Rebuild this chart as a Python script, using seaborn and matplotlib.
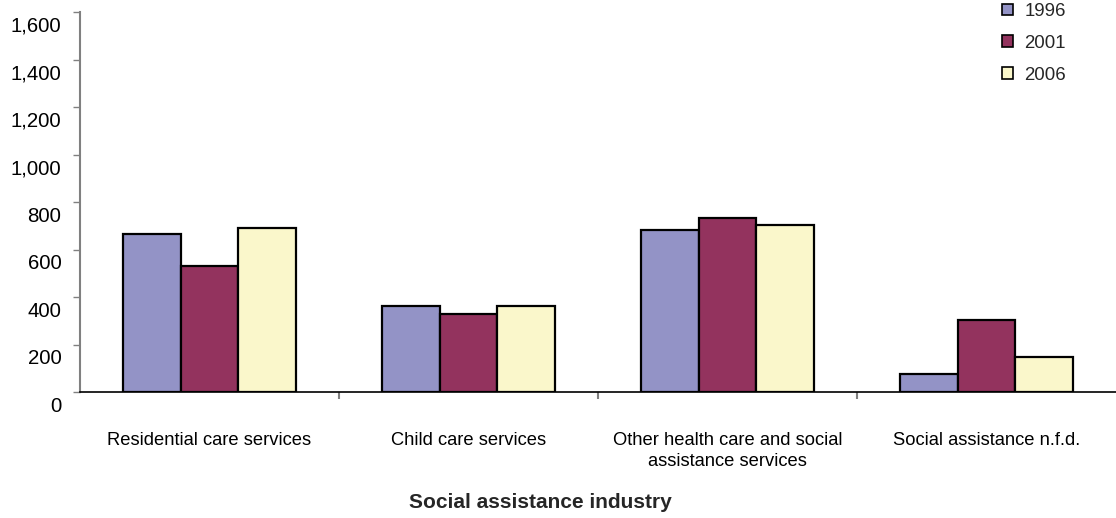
import matplotlib
matplotlib.use("Agg")
import matplotlib.pyplot as plt
import matplotlib.transforms as mtransforms
import seaborn as sns
import pandas as pd
from matplotlib.ticker import FuncFormatter, FixedLocator

categories = [
    "Residential care services",
    "Child care services",
    "Other health care and social\nassistance services",
    "Social assistance n.f.d.",
]
years = ["1996", "2001", "2006"]
values_1996 = [666, 364, 683, 76]
values_2001 = [531, 329, 732, 303]
values_2006 = [690, 364, 705, 149]
colors = ["#9393C6", "#93335E", "#FAF7CB"]

df = pd.DataFrame({
    "industry": categories * 3,
    "year": [y for y in years for _ in categories],
    "value": values_1996 + values_2001 + values_2006,
})

sns.set_theme(style="white")
plt.rcParams["font.family"] = ["Liberation Sans", "DejaVu Sans"]

fig = plt.figure(figsize=(11.16, 5.18), dpi=100)
ax = fig.add_axes([0.0717, 0.2432, 0.9283, 0.7331])

sns.barplot(data=df, x="industry", y="value", hue="year", palette=colors,
            width=0.67, gap=0, edgecolor="black", linewidth=1.6,
            saturation=1, ax=ax, legend=True)

ax.set_ylim(0, 1600)
ax.set_xlim(-0.5, 3.5)
ax.set_yticks(range(0, 1601, 200))
ax.yaxis.set_major_formatter(FuncFormatter(lambda v, p: f"{int(v):,}"))
ax.tick_params(axis="y", which="major", left=True, length=5, width=1,
               color="#808080", labelsize=14.7, pad=8.5, labelcolor="black")
# value labels sit a little below their tick marks
shift = mtransforms.ScaledTranslation(0, -12 / 100, fig.dpi_scale_trans)
for lab in ax.get_yticklabels():
    lab.set_transform(lab.get_transform() + shift)

# category labels centred, boundary ticks between categories
ax.tick_params(axis="x", which="major", bottom=False, labelsize=13.25, pad=23,
               labelcolor="black")
for lab in ax.get_xticklabels():
    lab.set_linespacing(1.25)
ax.xaxis.set_minor_locator(FixedLocator([0.5, 1.5, 2.5]))
ax.tick_params(axis="x", which="minor", bottom=True, length=5, width=1.5,
               color="#808080")

for side in ["top", "right"]:
    ax.spines[side].set_visible(False)
ax.spines["left"].set_color("#808080")
ax.spines["left"].set_linewidth(1.5)
ax.spines["bottom"].set_color("black")
ax.spines["bottom"].set_linewidth(1.2)

ax.set_ylabel("")
ax.set_xlabel("Social assistance industry", fontsize=15, fontweight="bold",
              va="top")
ax.xaxis.set_label_coords((540 - 80) / 1036, -(493 - 392) / 379.7)

handles, labels = ax.get_legend_handles_labels()
leg = ax.legend(handles, labels, loc="upper left",
                bbox_to_anchor=(1002 / 1116, 1 - 3 / 518),
                bbox_transform=fig.transFigure, frameon=False,
                fontsize=13.4, handlelength=0.6, handleheight=0.6,
                handletextpad=0.6, labelspacing=0.8, borderaxespad=0,
                borderpad=0)
for h in leg.legend_handles:
    h.set_edgecolor("black")
    h.set_linewidth(1.2)

fig.savefig("out.png", dpi=100)
